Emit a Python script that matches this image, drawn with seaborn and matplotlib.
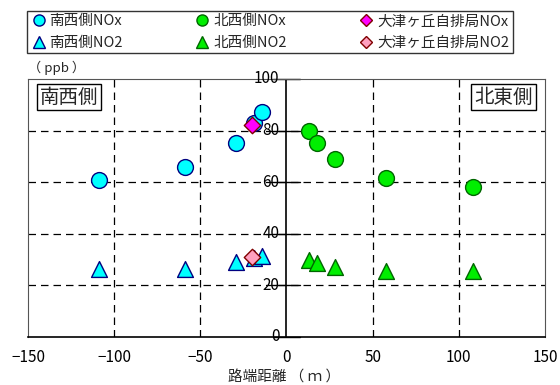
import seaborn as sns
import pandas as pd
import matplotlib.pyplot as plt
from matplotlib.lines import Line2D

# 南西側 (SW) and 北東側 (NE) measurements
sw_x = [-109, -59, -29, -19, -14]
sw_nox = [61, 66, 75, 83, 87]
sw_no2 = [26.5, 26.5, 29, 30.5, 31.5]

ne_x = [13, 18, 28, 58, 108]
ne_nox = [80, 75, 69, 61.5, 58]
ne_no2 = [30, 28.5, 27, 25.5, 25.5]

# 大津ヶ丘自排局
st_x = [-20]
st_nox = [82]
st_no2 = [31]

labels = ["南西側NOx", "北西側NOx", "大津ヶ丘自排局NOx",
          "南西側NO2", "北西側NO2", "大津ヶ丘自排局NO2"]

sns.set_theme(style="white")
plt.rcParams['font.family'] = ['Noto Sans CJK JP', 'DejaVu Sans']

fig = plt.figure(figsize=(5.6, 3.85), dpi=100)
ax = fig.add_axes([0.05, 0.1247, 0.923, 0.6703])

series = [
    (sw_x, sw_nox, "#00FFFF", "#000080", "o", 130),
    (sw_x, sw_no2, "#00FFFF", "#000080", "^", 130),
    (ne_x, ne_nox, "#00EE00", "#006600", "o", 130),
    (ne_x, ne_no2, "#00EE00", "#006600", "^", 130),
    (st_x, st_nox, "#FF00FF", "#800000", "D", 70),
    (st_x, st_no2, "#FFA0C0", "#800000", "D", 70),
]
for xs, ys, fc, ec, mk, s in series:
    df = pd.DataFrame({"x": xs, "y": ys})
    sns.scatterplot(data=df, x="x", y="y", ax=ax, color=fc, edgecolor=ec,
                    marker=mk, s=s, linewidth=1, zorder=3, legend=False)

ax.set_xlim(-150, 150)
ax.set_ylim(0, 100)
ax.set_xticks([-150, -100, -50, 0, 50, 100, 150])
ax.set_xticklabels(["−150", "−100", "−50", "0", "50", "100", "150"])
ax.set_yticks([0, 20, 40, 60, 80, 100])

# dashed grid, not on the zero lines
for gx in [-100, -50, 50, 100]:
    ax.axvline(gx, color="black", ls=(0, (6, 4)), lw=0.9, zorder=1)
for gy in [20, 40, 60, 80]:
    ax.axhline(gy, color="black", ls=(0, (6, 4)), lw=0.9, zorder=1)

for side in ["top", "right", "left"]:
    ax.spines[side].set_color("#555555")
    ax.spines[side].set_linewidth(0.8)
ax.spines["bottom"].set_color("black")
ax.spines["bottom"].set_linewidth(1.2)

# y axis drawn at x = 0
ax.axvline(0, color="black", lw=1.2, zorder=2)
ax.tick_params(axis="y", left=False, labelleft=False)
for gy in [0, 20, 40, 60, 80, 100]:
    ax.plot([-8, 8], [gy, gy], color="black", lw=1, zorder=2, clip_on=False)
    ax.text(-4, gy, str(gy), ha="right", va="center", fontsize=11,
            color="black", zorder=4)
ax.tick_params(axis="x", bottom=False, labelsize=11, colors="black", pad=3)

ax.set_xlabel("")
ax.set_ylabel("")
fig.text(0.508, 0.018, "路端距離 （ ｍ ）", fontsize=10.5, ha="center", va="center")
ax.text(0.0, 1.015, "（ ppb ）", transform=ax.transAxes, fontsize=9.5,
        ha="left", va="bottom")

box = dict(boxstyle="square,pad=0.15", fc="white", ec="black", lw=1)
ax.text(-143, 93, "南西側", fontsize=14, ha="left", va="center", bbox=box, zorder=5)
ax.text(143, 93, "北東側", fontsize=14, ha="right", va="center", bbox=box, zorder=5)

handles = [
    Line2D([], [], ls="", marker="o", mfc="#00FFFF", mec="#000080", ms=8),
    Line2D([], [], ls="", marker="o", mfc="#00EE00", mec="#006600", ms=8),
    Line2D([], [], ls="", marker="D", mfc="#FF00FF", mec="#800000", ms=6),
    Line2D([], [], ls="", marker="^", mfc="#00FFFF", mec="#000080", ms=8),
    Line2D([], [], ls="", marker="^", mfc="#00EE00", mec="#006600", ms=8),
    Line2D([], [], ls="", marker="D", mfc="#FFA0C0", mec="#800000", ms=6),
]
# order so that ncol=3 fills rows as in the reference
order = [0, 3, 1, 4, 2, 5]
leg = fig.legend([handles[i] for i in order], [labels[i] for i in order],
                 ncol=3, loc="upper left", bbox_to_anchor=(0.048, 0.972),
                 fontsize=10.5, frameon=True, fancybox=False, edgecolor="black",
                 handletextpad=0.2, columnspacing=4.9, borderpad=0.25,
                 labelspacing=0.5, handlelength=1.1, borderaxespad=0)
leg.get_frame().set_linewidth(1)

plt.savefig("out.png", dpi=100)
